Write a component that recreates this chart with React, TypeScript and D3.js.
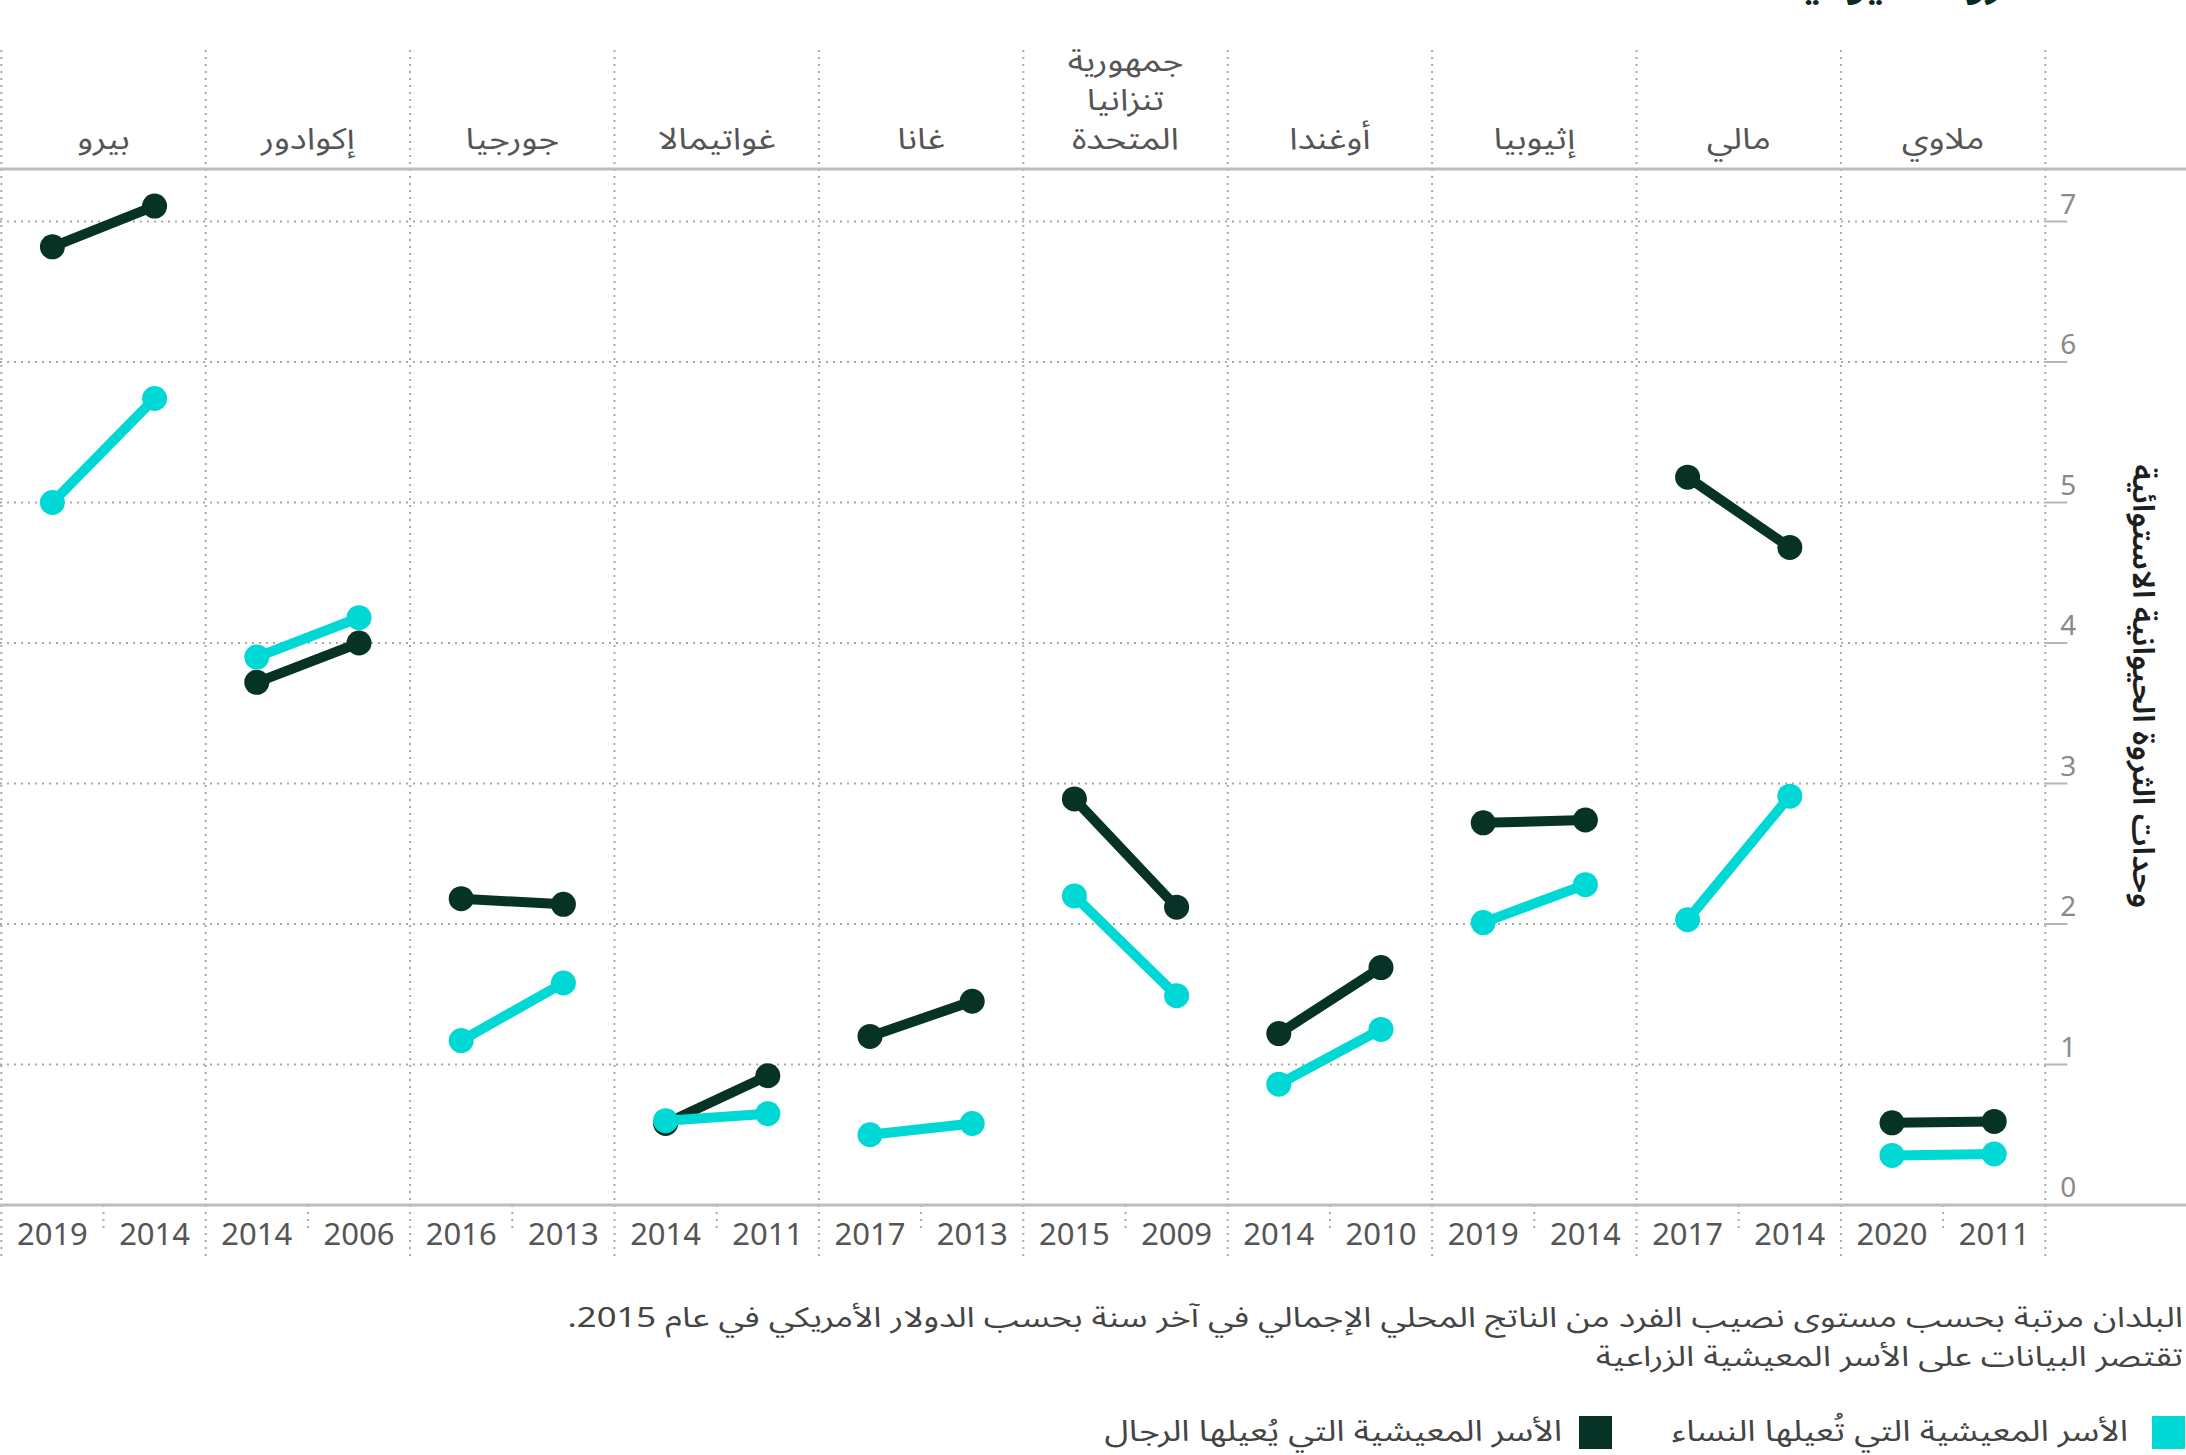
import React from "react";
import * as d3 from "d3";

const countryLabels: string[][] = [
  ["بيرو"],
  ["إكوادور"],
  ["جورجيا"],
  ["غواتيمالا"],
  ["غانا"],
  ["جمهورية", "تنزانيا", "المتحدة"],
  ["أوغندا"],
  ["إثيوبيا"],
  ["مالي"],
  ["ملاوي"],
];
const countries = countryLabels.map((l) => l.join(" "));
const yearsLatest = ["2019", "2014", "2016", "2014", "2017", "2015", "2014", "2019", "2017", "2020"];
const yearsEarlier = ["2014", "2006", "2013", "2011", "2013", "2009", "2010", "2014", "2014", "2011"];
const menLatest = [6.82, 3.72, 2.18, 0.58, 1.2, 2.89, 1.22, 2.72, 5.18, 0.585];
const menEarlier = [7.11, 4.0, 2.14, 0.92, 1.45, 2.12, 1.69, 2.74, 4.68, 0.595];
const womenLatest = [5.0, 3.9, 1.17, 0.6, 0.5, 2.2, 0.86, 2.01, 2.03, 0.353];
const womenEarlier = [5.74, 4.18, 1.58, 0.65, 0.58, 1.49, 1.25, 2.28, 2.91, 0.363];
const yTicks = [0, 1, 2, 3, 4, 5, 6, 7];

const yAxisTitle = "وحدات الثروة الحيوانية الاستوائية";
const chartTitle = "الثروة الحيوانية";
const noteLines = [
  "البلدان مرتبة بحسب مستوى نصيب الفرد من الناتج المحلي الإجمالي في آخر سنة بحسب الدولار الأمريكي في عام 2015.",
  "تقتصر البيانات على الأسر المعيشية الزراعية",
];
const legendItems = [
  { label: "الأسر المعيشية التي تُعيلها النساء", color: "#00d8d5" },
  { label: "الأسر المعيشية التي يُعيلها الرجال", color: "#073327" },
];

const MEN = "#073327";
const WOMEN = "#00d8d5";
const GRID = "#a9a9a9";
const FONT = "'Noto Sans Arabic', 'Noto Sans', 'DejaVu Sans', sans-serif";

export default function App() {
  const W = 2186;
  const H = 1455;
  const x = d3.scaleBand<string>().domain(countries).range([1.3, 2045.3]).padding(0);
  const bw = x.bandwidth();
  const inner = d3.scalePoint<string>().domain(["latest", "earlier"]).range([0, bw]).padding(0.5);
  const y = d3.scaleLinear().domain([0, 7]).range([1205, 221.5]);
  const line = d3.line<[number, number]>().x((d) => d[0]).y((d) => d[1]);
  const right = x.range()[1];

  const series = [
    { color: MEN, latest: menLatest, earlier: menEarlier },
    { color: WOMEN, latest: womenLatest, earlier: womenEarlier },
  ];

  const boundaries = countries.map((c) => x(c) as number).concat([right]);

  return (
    <svg width={W} height={H} style={{ position: "absolute", left: 0, top: 0, background: "#fff" }}>
      <rect width={W} height={H} fill="#fff" />
      {/* cut-off title */}
      <g transform="translate(2045,-3) scale(1.15,1)">
        <text x={0} y={0} direction="rtl" textAnchor="start" fontFamily={FONT} fontSize={36} fontWeight={700} fill="#0d2a22">
          {chartTitle}
        </text>
      </g>
      {/* horizontal dotted grid */}
      {yTicks.filter((t) => t > 0).map((t) => (
        <line key={"g" + t} x1={0} x2={right} y1={y(t)} y2={y(t)} stroke={GRID} strokeWidth={2} strokeDasharray="2 5" />
      ))}
      {/* vertical dotted dividers */}
      {boundaries.map((bx, i) => (
        <line key={"v" + i} x1={bx} x2={bx} y1={50} y2={1256} stroke={GRID} strokeWidth={2} strokeDasharray="2 5" />
      ))}
      {/* mid-column sub ticks on x axis */}
      {countries.map((c) => (
        <line key={"m" + c} x1={(x(c) as number) + bw / 2} x2={(x(c) as number) + bw / 2} y1={1205} y2={1230} stroke={GRID} strokeWidth={2} strokeDasharray="2 5" />
      ))}
      {/* header line and baseline */}
      <line x1={0} x2={W} y1={169} y2={169} stroke="#bdbdbd" strokeWidth={3} />
      <line x1={0} x2={W} y1={y(0)} y2={y(0)} stroke="#bdbdbd" strokeWidth={3} />
      {/* y ticks */}
      {yTicks.map((t) => (
        <g key={"t" + t}>
          {t > 0 && <line x1={right} x2={right + 22} y1={y(t)} y2={y(t)} stroke="#b5b5b5" strokeWidth={2} />}
          <text x={right + 15} y={y(t) - 8} fontFamily="'Noto Sans', sans-serif" fontSize={28} fill="#8a8a8a">
            {t}
          </text>
        </g>
      ))}
      {/* y axis title */}
      <g transform={`translate(2133, ${y(3.5) - 27}) rotate(90) scale(1.08,1)`}>
        <text x={0} y={0} direction="rtl" textAnchor="middle" fontFamily={FONT} fontSize={30} fontWeight={600} fill="#1e1e1e">
          {yAxisTitle}
        </text>
      </g>
      {/* country labels */}
      {countryLabels.map((lines, i) => {
        const cx = (x(countries[i]) as number) + bw / 2;
        return (
          <g key={"c" + i} transform={`translate(${cx},0) scale(1.18,1)`}>
            {lines.map((ln, j) => (
              <text key={j} x={0} y={149 - (lines.length - 1 - j) * 39} direction="rtl" textAnchor="middle" fontFamily={FONT} fontSize={30} fill="#555">
                {ln}
              </text>
            ))}
          </g>
        );
      })}
      {/* year labels */}
      {countries.map((c, i) => (
        <g key={"y" + c}>
          <text x={(x(c) as number) + (inner("latest") as number)} y={1245} textAnchor="middle" fontFamily="'Noto Sans', sans-serif" fontSize={31} fill="#555">
            {yearsLatest[i]}
          </text>
          <text x={(x(c) as number) + (inner("earlier") as number)} y={1245} textAnchor="middle" fontFamily="'Noto Sans', sans-serif" fontSize={31} fill="#555">
            {yearsEarlier[i]}
          </text>
        </g>
      ))}
      {/* series */}
      {series.map((s, si) => (
        <g key={"s" + si}>
          {countries.map((c, i) => {
            const x0 = x(c) as number;
            const p1: [number, number] = [x0 + (inner("latest") as number), y(s.latest[i])];
            const p2: [number, number] = [x0 + (inner("earlier") as number), y(s.earlier[i])];
            return (
              <g key={c}>
                <path d={line([p1, p2]) as string} stroke={s.color} strokeWidth={10} fill="none" />
                <circle cx={p1[0]} cy={p1[1]} r={12.5} fill={s.color} />
                <circle cx={p2[0]} cy={p2[1]} r={12.5} fill={s.color} />
              </g>
            );
          })}
        </g>
      ))}
      {/* notes */}
      {noteLines.map((ln, i) => (
        <g key={"n" + i} transform={`translate(2183, ${1327 + i * 39}) scale(1.24,1)`}>
          <text x={0} y={0} direction="rtl" textAnchor="start" fontFamily={FONT} fontSize={28} fill="#444">
            {ln}
          </text>
        </g>
      ))}
      {/* legend */}
      <rect x={2152} y={1416} width={33} height={33} fill={legendItems[0].color} />
      <g transform="translate(2128,1441) scale(1.21,1)">
        <text x={0} y={0} direction="rtl" textAnchor="start" fontFamily={FONT} fontSize={29} fill="#444">
          {legendItems[0].label}
        </text>
      </g>
      <rect x={1579} y={1416} width={33} height={33} fill={legendItems[1].color} />
      <g transform="translate(1562,1441) scale(1.21,1)">
        <text x={0} y={0} direction="rtl" textAnchor="start" fontFamily={FONT} fontSize={29} fill="#444">
          {legendItems[1].label}
        </text>
      </g>
    </svg>
  );
}
